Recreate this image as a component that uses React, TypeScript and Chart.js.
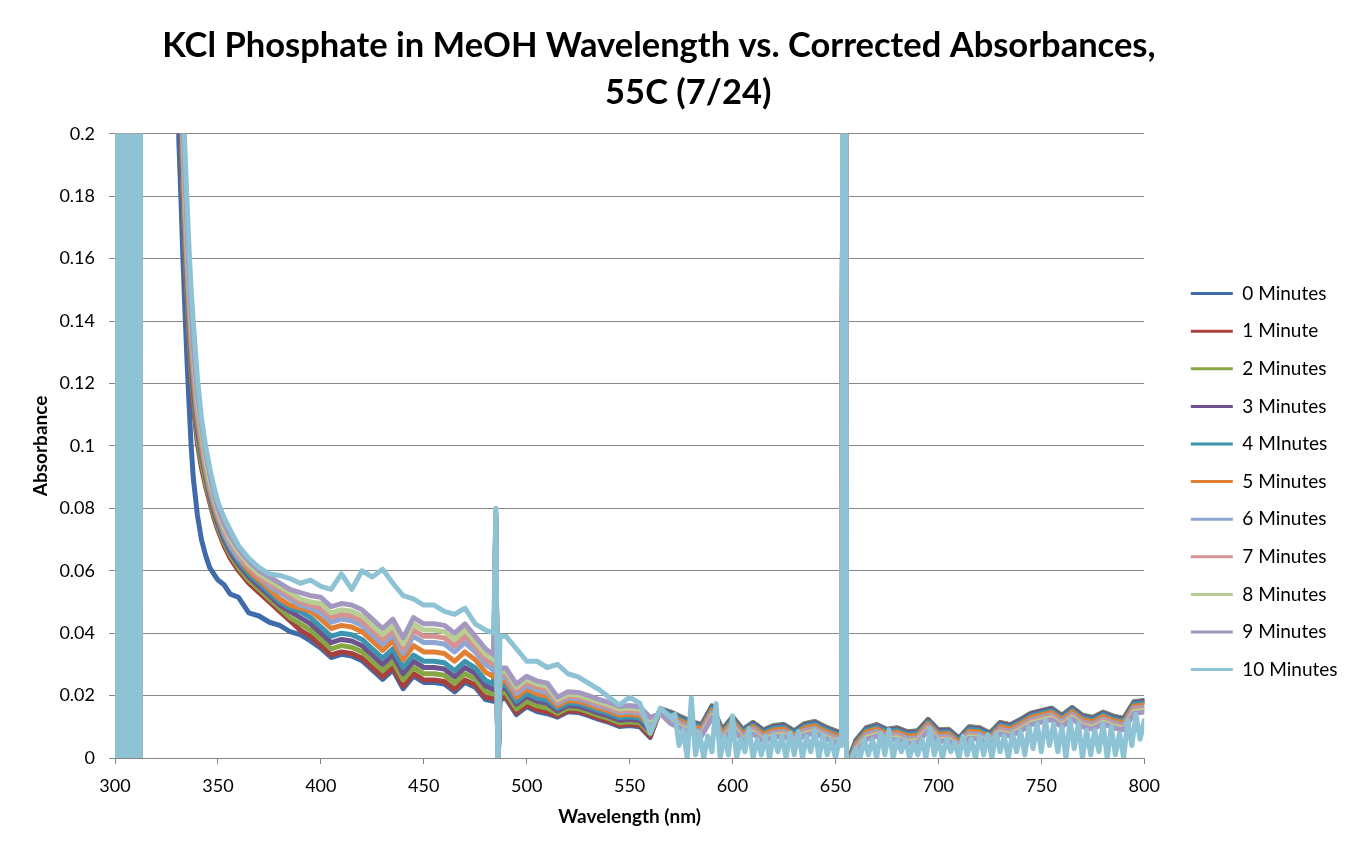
import { useEffect, useRef } from 'react';
import { Chart, registerables } from 'chart.js';

Chart.register(...registerables);

const TITLE_LINES = ['KCl Phosphate in MeOH Wavelength vs. Corrected Absorbances,       ', '55C (7/24)'];
const X_TITLE = 'Wavelength (nm)';
const Y_TITLE = 'Absorbance';

const SERIES_LABELS = ['0 Minutes', '1 Minute', '2 Minutes', '3 Minutes', '4 MInutes', '5 Minutes', '6 Minutes', '7 Minutes', '8 Minutes', '9 Minutes', '10 Minutes'];
const SERIES_COLORS = ['#3F6BAA', '#A8403D', '#86A743', '#6E548F', '#3C94AF', '#E18034', '#8DA7D2', '#D69291', '#B7CF92', '#A598C0', '#8EC2D5'];

const X_TICKS = [300, 350, 400, 450, 500, 550, 600, 650, 700, 750, 800];
const X_TICK_LABELS = ['300', '350', '400', '450', '500', '550', '600', '650', '700', '750', '800'];
const Y_TICKS = [0, 0.02, 0.04, 0.06, 0.08, 0.1, 0.12, 0.14, 0.16, 0.18, 0.2];
const Y_TICK_LABELS = ['0', '0.02', '0.04', '0.06', '0.08', '0.1', '0.12', '0.14', '0.16', '0.18', '0.2'];

// shared saturated UV edge (300-330 nm), identical for every run
const EDGE_WL = [300, 301, 301.5, 302, 302.5, 303, 303.5, 304, 304.5, 305, 305.5, 306, 306.5, 307, 307.5, 308, 308.5, 309, 309.5, 310, 310.5, 311, 311.5, 312, 312.5, 320, 330];
const EDGE_ABS = [0, 0, 0.5, -0.2, 0.5, -0.2, 0.5, -0.2, 0.5, -0.2, 0.5, -0.2, 0.5, -0.2, 0.5, -0.2, 0.5, -0.2, 0.5, -0.2, 0.5, -0.2, 0.5, -0.2, 0.5, 0.5, 0.5];

const WAVELENGTHS = [
  331, 332, 333, 334, 335, 336, 337, 338, 340, 342, 344, 346, 348, 350, 353, 356, 360, 365, 370, 375, 380, 385, 390, 395,
  400, 405, 410, 415, 420, 425, 430, 435, 440, 445, 450, 455, 460, 465, 470, 475, 480,
  484, 485, 486, 487,
  490, 495, 500, 505, 510, 515, 520, 525, 530, 535, 540, 545, 550, 555, 560, 565, 570,
  575, 580, 585, 590, 595, 600, 605, 610, 615, 620, 625, 630, 635, 640, 645, 650,
  653, 654.3, 655.5,
  658, 660, 665, 670, 675, 680, 685, 690, 695, 700, 705, 710, 715, 720, 725, 730, 735, 740, 745, 750, 755, 760, 765, 770, 775, 780, 785, 790, 795, 800,
];

const MIN0 = [
  0.198, 0.18, 0.16, 0.143, 0.127, 0.113, 0.1, 0.09, 0.078, 0.07, 0.065, 0.061, 0.059, 0.057, 0.0555, 0.0525, 0.0515, 0.0465, 0.0455, 0.0435, 0.0425, 0.0405, 0.0395, 0.0375,
  0.0352, 0.0322, 0.0332, 0.0327, 0.0312, 0.0282, 0.0252, 0.0282, 0.0222, 0.0262, 0.0242, 0.0242, 0.0237, 0.0212, 0.0242, 0.0227, 0.0187,
  0.0182, 0.075, -0.005, 0.019,
  0.019, 0.0139, 0.0164, 0.0149, 0.0142, 0.0131, 0.0148, 0.0146, 0.0136, 0.0124, 0.0114, 0.0101, 0.0104, 0.01, 0.0066, 0.0158, 0.0147,
  0.0132, 0.0117, 0.0107, 0.0167, 0.009, 0.0132, 0.0092, 0.0114, 0.009, 0.0104, 0.0107, 0.0087, 0.011, 0.0117, 0.01, 0.0087,
  0.0082, 0.5, -0.05,
  0.0022, 0.0057, 0.0097, 0.0107, 0.0092, 0.0097, 0.0084, 0.0087, 0.0124, 0.009, 0.0092, 0.0064, 0.01, 0.0097, 0.008, 0.0114, 0.0107, 0.0124, 0.0144, 0.0152, 0.016, 0.0137, 0.0162, 0.0137, 0.013, 0.0147, 0.0134, 0.0127, 0.018, 0.0184,
];
const MIN1 = [
  0.26, 0.2, 0.178, 0.16, 0.145, 0.132, 0.121, 0.113, 0.101, 0.093, 0.087, 0.082, 0.077, 0.073, 0.068, 0.064, 0.06, 0.056, 0.053, 0.05, 0.047, 0.044, 0.041, 0.039,
  0.036, 0.033, 0.034, 0.0335, 0.032, 0.029, 0.026, 0.029, 0.023, 0.027, 0.025, 0.025, 0.0245, 0.022, 0.025, 0.0235, 0.0195,
  0.019, 0.076, -0.005, 0.0196,
  0.0196, 0.0145, 0.017, 0.0155, 0.0148, 0.0135, 0.0152, 0.015, 0.014, 0.0128, 0.0118, 0.0105, 0.0108, 0.0104, 0.007, 0.0155, 0.0145,
  0.013, 0.0115, 0.0105, 0.0165, 0.0088, 0.013, 0.009, 0.0112, 0.0088, 0.0102, 0.0105, 0.0085, 0.0108, 0.0115, 0.0098, 0.0085,
  0.008, 0.5, -0.05,
  0.002, 0.0055, 0.0095, 0.0105, 0.009, 0.0095, 0.0082, 0.0085, 0.0122, 0.0088, 0.009, 0.0062, 0.0098, 0.0095, 0.0078, 0.0112, 0.0105, 0.0122, 0.0142, 0.015, 0.0158, 0.0135, 0.016, 0.0135, 0.0128, 0.0145, 0.0132, 0.0125, 0.0178, 0.0182,
];
const MIN2 = [
  0.27, 0.205, 0.182, 0.163, 0.148, 0.135, 0.124, 0.116, 0.103, 0.095, 0.088, 0.083, 0.078, 0.074, 0.069, 0.065, 0.061, 0.057, 0.054, 0.051, 0.048, 0.045, 0.043, 0.041,
  0.038, 0.035, 0.036, 0.0355, 0.034, 0.031, 0.028, 0.031, 0.025, 0.029, 0.027, 0.027, 0.0265, 0.024, 0.027, 0.0253, 0.0213,
  0.0205, 0.076, -0.005, 0.0208,
  0.0208, 0.0157, 0.0182, 0.0167, 0.016, 0.0143, 0.016, 0.0158, 0.0148, 0.0136, 0.0126, 0.0113, 0.0116, 0.0112, 0.0078, 0.0157, 0.0146,
  0.0131, 0.0116, 0.0106, 0.0166, 0.0089, 0.0131, 0.0091, 0.0113, 0.0089, 0.0103, 0.0106, 0.0086, 0.0109, 0.0116, 0.0099, 0.0086,
  0.0081, 0.5, -0.05,
  0.0021, 0.0056, 0.0096, 0.0106, 0.0091, 0.0096, 0.0083, 0.0086, 0.0123, 0.0089, 0.0091, 0.0063, 0.0099, 0.0096, 0.0079, 0.0113, 0.0106, 0.0123, 0.0143, 0.0151, 0.0159, 0.0136, 0.0161, 0.0136, 0.0129, 0.0146, 0.0133, 0.0126, 0.0179, 0.0183,
];
const MIN3 = [
  0.27, 0.21, 0.186, 0.166, 0.151, 0.138, 0.127, 0.118, 0.105, 0.097, 0.09, 0.084, 0.079, 0.075, 0.07, 0.066, 0.062, 0.058, 0.055, 0.052, 0.049, 0.047, 0.045, 0.043,
  0.04, 0.037, 0.038, 0.0375, 0.036, 0.033, 0.03, 0.033, 0.027, 0.031, 0.029, 0.029, 0.0285, 0.026, 0.029, 0.0271, 0.0231,
  0.022, 0.077, -0.005, 0.0223,
  0.0223, 0.0172, 0.0197, 0.0182, 0.0175, 0.0151, 0.0168, 0.0166, 0.0156, 0.0144, 0.0134, 0.0121, 0.0124, 0.012, 0.0086, 0.0156, 0.0144,
  0.0129, 0.0114, 0.0104, 0.0164, 0.0087, 0.0129, 0.0089, 0.0111, 0.0087, 0.0101, 0.0104, 0.0084, 0.0107, 0.0114, 0.0097, 0.0084,
  0.0079, 0.5, -0.05,
  0.0019, 0.0054, 0.0094, 0.0104, 0.0089, 0.0094, 0.0081, 0.0084, 0.0121, 0.0087, 0.0089, 0.0061, 0.0097, 0.0094, 0.0077, 0.0111, 0.0104, 0.0121, 0.0141, 0.0149, 0.0157, 0.0134, 0.0159, 0.0134, 0.0127, 0.0144, 0.0131, 0.0124, 0.0177, 0.0181,
];
const MIN4 = [
  0.28, 0.215, 0.19, 0.169, 0.154, 0.141, 0.13, 0.121, 0.107, 0.098, 0.091, 0.085, 0.08, 0.076, 0.071, 0.067, 0.063, 0.059, 0.056, 0.053, 0.05, 0.048, 0.047, 0.045,
  0.042, 0.039, 0.04, 0.0395, 0.038, 0.035, 0.032, 0.035, 0.029, 0.033, 0.031, 0.031, 0.0305, 0.028, 0.031, 0.0289, 0.0249,
  0.0235, 0.077, -0.005, 0.0233,
  0.0233, 0.0182, 0.0207, 0.0192, 0.0185, 0.0159, 0.0176, 0.0174, 0.0164, 0.0152, 0.0142, 0.0129, 0.0132, 0.0128, 0.0094, 0.0154, 0.014,
  0.0124, 0.0109, 0.0099, 0.0159, 0.0082, 0.0124, 0.0084, 0.0106, 0.0082, 0.0096, 0.0099, 0.0079, 0.0102, 0.0109, 0.0092, 0.0079,
  0.0074, 0.5, -0.05,
  0.0014, 0.0049, 0.0089, 0.0099, 0.0084, 0.0089, 0.0076, 0.0079, 0.0116, 0.0082, 0.0084, 0.0056, 0.0092, 0.0089, 0.0072, 0.0106, 0.0099, 0.0116, 0.0136, 0.0144, 0.0152, 0.0129, 0.0154, 0.0129, 0.0122, 0.0139, 0.0126, 0.0119, 0.0172, 0.0176,
];
const MIN5 = [
  0.28, 0.22, 0.193, 0.172, 0.157, 0.144, 0.132, 0.123, 0.109, 0.1, 0.092, 0.086, 0.081, 0.077, 0.072, 0.068, 0.064, 0.06, 0.057, 0.054, 0.051, 0.049, 0.048, 0.047,
  0.0445, 0.0415, 0.0425, 0.042, 0.0405, 0.0375, 0.0345, 0.0375, 0.0315, 0.036, 0.034, 0.034, 0.0335, 0.031, 0.034, 0.0315, 0.0275,
  0.026, 0.078, -0.005, 0.0246,
  0.0246, 0.0195, 0.022, 0.0205, 0.0198, 0.0167, 0.0184, 0.0182, 0.0172, 0.016, 0.015, 0.0137, 0.014, 0.0136, 0.0102, 0.015, 0.0133,
  0.0118, 0.0103, 0.0093, 0.0153, 0.0076, 0.0118, 0.0078, 0.01, 0.0076, 0.009, 0.0093, 0.0073, 0.0096, 0.0103, 0.0086, 0.0073,
  0.0068, 0.5, -0.05,
  0.0008, 0.0043, 0.0083, 0.0093, 0.0078, 0.0083, 0.007, 0.0073, 0.011, 0.0076, 0.0078, 0.005, 0.0086, 0.0083, 0.0066, 0.01, 0.0093, 0.011, 0.013, 0.0138, 0.0146, 0.0123, 0.0148, 0.0123, 0.0116, 0.0133, 0.012, 0.0113, 0.0166, 0.017,
];
const MIN6 = [
  0.29, 0.225, 0.197, 0.176, 0.16, 0.147, 0.135, 0.126, 0.111, 0.102, 0.094, 0.087, 0.082, 0.078, 0.072, 0.068, 0.064, 0.061, 0.058, 0.055, 0.053, 0.051, 0.049, 0.048,
  0.0465, 0.0435, 0.0445, 0.044, 0.0425, 0.0395, 0.0365, 0.0395, 0.0335, 0.039, 0.037, 0.037, 0.0365, 0.034, 0.037, 0.034, 0.03,
  0.028, 0.078, -0.005, 0.0258,
  0.0258, 0.0207, 0.0232, 0.0217, 0.021, 0.0175, 0.0192, 0.019, 0.018, 0.0168, 0.0158, 0.0145, 0.0148, 0.0144, 0.011, 0.0148, 0.0125,
  0.011, 0.0095, 0.0085, 0.0145, 0.0068, 0.011, 0.007, 0.0092, 0.0068, 0.0082, 0.0085, 0.0065, 0.0088, 0.0095, 0.0078, 0.0065,
  0.006, 0.5, -0.05,
  0.0, 0.0035, 0.0075, 0.0085, 0.007, 0.0075, 0.0062, 0.0065, 0.0102, 0.0068, 0.007, 0.0042, 0.0078, 0.0075, 0.0058, 0.0092, 0.0085, 0.0102, 0.0122, 0.013, 0.0138, 0.0115, 0.014, 0.0115, 0.0108, 0.0125, 0.0112, 0.0105, 0.0158, 0.0162,
];
const MIN7 = [
  0.29, 0.23, 0.2, 0.179, 0.163, 0.15, 0.138, 0.128, 0.113, 0.103, 0.095, 0.088, 0.083, 0.078, 0.073, 0.069, 0.065, 0.061, 0.058, 0.056, 0.054, 0.052, 0.05, 0.049,
  0.048, 0.045, 0.046, 0.0455, 0.044, 0.041, 0.038, 0.041, 0.035, 0.041, 0.039, 0.039, 0.0385, 0.036, 0.039, 0.0357, 0.0317,
  0.03, 0.078, -0.005, 0.0268,
  0.0268, 0.0217, 0.0242, 0.0227, 0.022, 0.0181, 0.0198, 0.0196, 0.0186, 0.0174, 0.0164, 0.0151, 0.0154, 0.015, 0.0116, 0.0146, 0.012,
  0.0105, 0.009, 0.008, 0.014, 0.0063, 0.0105, 0.0065, 0.0087, 0.0063, 0.0077, 0.008, 0.006, 0.0083, 0.009, 0.0073, 0.006,
  0.0055, 0.5, -0.05,
  -0.0005, 0.003, 0.007, 0.008, 0.0065, 0.007, 0.0057, 0.006, 0.0097, 0.0063, 0.0065, 0.0037, 0.0073, 0.007, 0.0053, 0.0087, 0.008, 0.0097, 0.0117, 0.0125, 0.0133, 0.011, 0.0135, 0.011, 0.0103, 0.012, 0.0107, 0.01, 0.0153, 0.0157,
];
const MIN8 = [
  0.3, 0.235, 0.203, 0.182, 0.166, 0.152, 0.14, 0.131, 0.115, 0.105, 0.096, 0.089, 0.084, 0.079, 0.074, 0.07, 0.066, 0.062, 0.059, 0.057, 0.055, 0.053, 0.051, 0.05,
  0.0495, 0.0465, 0.0475, 0.047, 0.0455, 0.0425, 0.0395, 0.0425, 0.0365, 0.043, 0.041, 0.041, 0.0405, 0.038, 0.041, 0.0373, 0.0333,
  0.0315, 0.079, -0.005, 0.0278,
  0.0278, 0.0227, 0.0252, 0.0237, 0.023, 0.0187, 0.0204, 0.0202, 0.0192, 0.018, 0.017, 0.0157, 0.016, 0.0156, 0.0122, 0.0144, 0.0115,
  0.01, 0.0085, 0.0075, 0.0135, 0.0058, 0.01, 0.006, 0.0082, 0.0058, 0.0072, 0.0075, 0.0055, 0.0078, 0.0085, 0.0068, 0.0055,
  0.005, 0.5, -0.05,
  -0.001, 0.0025, 0.0065, 0.0075, 0.006, 0.0065, 0.0052, 0.0055, 0.0092, 0.0058, 0.006, 0.0032, 0.0068, 0.0065, 0.0048, 0.0082, 0.0075, 0.0092, 0.0112, 0.012, 0.0128, 0.0105, 0.013, 0.0105, 0.0098, 0.0115, 0.0102, 0.0095, 0.0148, 0.0152,
];
const MIN9 = [
  0.3, 0.24, 0.207, 0.186, 0.17, 0.155, 0.143, 0.133, 0.117, 0.107, 0.098, 0.091, 0.085, 0.08, 0.075, 0.071, 0.067, 0.063, 0.06, 0.058, 0.056, 0.054, 0.053, 0.052,
  0.0515, 0.0485, 0.0495, 0.049, 0.0475, 0.0445, 0.0415, 0.0445, 0.0385, 0.045, 0.043, 0.043, 0.0425, 0.04, 0.043, 0.039, 0.035,
  0.033, 0.079, -0.005, 0.0288,
  0.0288, 0.0237, 0.0262, 0.0247, 0.024, 0.0195, 0.0212, 0.021, 0.02, 0.0188, 0.0178, 0.0165, 0.0168, 0.0164, 0.013, 0.0142, 0.011,
  0.0095, 0.008, 0.007, 0.013, 0.0053, 0.0095, 0.0055, 0.0077, 0.0053, 0.0067, 0.007, 0.005, 0.0073, 0.008, 0.0063, 0.005,
  0.0045, 0.5, -0.05,
  -0.0015, 0.002, 0.006, 0.007, 0.0055, 0.006, 0.0047, 0.005, 0.0087, 0.0053, 0.0055, 0.0027, 0.0063, 0.006, 0.0043, 0.0077, 0.007, 0.0087, 0.0107, 0.0115, 0.0123, 0.01, 0.0125, 0.01, 0.0093, 0.011, 0.0097, 0.009, 0.0143, 0.0147,
];
// 10 Minutes: main grid up to 570 nm, then its own finer grid (it oscillates hard to zero)
const MIN10 = [
  0.32, 0.26, 0.215, 0.195, 0.178, 0.163, 0.15, 0.14, 0.122, 0.109, 0.1, 0.093, 0.087, 0.082, 0.077, 0.073, 0.068, 0.064, 0.061, 0.059, 0.0585, 0.0575, 0.056, 0.057,
  0.055, 0.054, 0.059, 0.054, 0.06, 0.058, 0.0605, 0.056, 0.052, 0.051, 0.049, 0.049, 0.047, 0.046, 0.048, 0.043, 0.041,
  0.04, 0.08, -0.005, 0.039,
  0.039, 0.035, 0.031, 0.031, 0.029, 0.03, 0.027, 0.026, 0.024, 0.022, 0.0195, 0.017, 0.0195, 0.0175, 0.008, 0.016, 0.013,
];
const MIN10_TAIL_WL = [
  572, 574, 576, 578, 580, 582, 584, 586, 588, 590, 592, 594, 596, 598, 600, 602, 604, 606, 608, 610,
  612, 614, 616, 618, 620, 622, 624, 626, 628, 630, 632, 634, 636, 638, 640, 642, 644, 646, 648, 650, 652,
  653, 654.3, 655.5,
  658, 660, 662, 664, 666, 668, 670, 672, 674, 676, 678, 680, 682, 684, 686, 688, 690, 692, 694, 696, 698, 700,
  702, 704, 706, 708, 710, 712, 714, 716, 718, 720, 722, 724, 726, 728, 730, 732, 734, 736, 738, 740,
  742, 744, 746, 748, 750, 752, 754, 756, 758, 760, 762, 764, 766, 768, 770, 772, 774, 776, 778, 780,
  782, 784, 786, 788, 790, 792, 794, 796, 798, 800,
];
const MIN10_TAIL = [
  0.014, 0.004, 0.009, 0.0, 0.0192, 0.001, 0.008, 0.0, 0.007, 0.002, 0.0175, 0.0, 0.007, 0.001, 0.0135, 0.0, 0.006, 0.002, 0.0095, 0.0,
  0.006, 0.001, 0.007, 0.0, 0.0075, 0.002, 0.007, 0.0, 0.008, 0.001, 0.0085, 0.0, 0.007, 0.002, 0.009, 0.0, 0.0075, 0.001, 0.006, 0.0, 0.006,
  0.004, 0.5, -0.05,
  0.0, 0.003, 0.0, 0.006, 0.001, 0.006, 0.0, 0.008, 0.001, 0.009, 0.0, 0.006, 0.002, 0.006, 0.0, 0.005, 0.001, 0.006, 0.0, 0.0095, 0.001, 0.006,
  0.0, 0.006, 0.002, 0.005, 0.0, 0.007, 0.001, 0.006, 0.0, 0.007, 0.001, 0.0075, 0.0, 0.008, 0.002, 0.007, 0.0, 0.008, 0.002, 0.0085,
  0.001, 0.01, 0.003, 0.011, 0.002, 0.012, 0.004, 0.011, 0.002, 0.01, 0.0, 0.012, 0.003, 0.011, 0.0, 0.009, 0.001, 0.009, 0.002, 0.011,
  0.0, 0.01, 0.001, 0.008, 0.0, 0.012, 0.004, 0.014, 0.006, 0.012,
];

const SERIES_VALUES = [MIN0, MIN1, MIN2, MIN3, MIN4, MIN5, MIN6, MIN7, MIN8, MIN9];

const FONT = 'Lato, "Open Sans", sans-serif';

export default function App() {
  const canvasRef = useRef<HTMLCanvasElement>(null);

  useEffect(() => {
    const canvas = canvasRef.current;
    if (!canvas) return;

    const styleFor = (i: number) => ({
      label: SERIES_LABELS[i],
      borderColor: SERIES_COLORS[i],
      backgroundColor: SERIES_COLORS[i],
      borderWidth: 5,
      pointRadius: 0,
      pointHoverRadius: 0,
      fill: false,
      tension: 0,
      borderJoinStyle: 'round' as const,
      borderCapStyle: 'round' as const,
      order: 10 - i,
      clip: 0,
    });

    const mainX = [...EDGE_WL, ...WAVELENGTHS];
    const datasets: any[] = SERIES_VALUES.map((vals, i) => {
      const ys = [...EDGE_ABS, ...vals];
      return { ...styleFor(i), data: mainX.map((x, j) => ({ x, y: ys[j] })) };
    });
    const x10 = [...EDGE_WL, ...WAVELENGTHS.slice(0, MIN10.length), ...MIN10_TAIL_WL];
    const y10 = [...EDGE_ABS, ...MIN10, ...MIN10_TAIL];
    datasets.push({ ...styleFor(10), data: x10.map((x, j) => ({ x, y: y10[j] })) });

    const chart = new Chart(canvas, {
      type: 'line',
      data: { datasets },
      options: {
        responsive: false,
        animation: false,
        devicePixelRatio: 1,
        events: [],
        layout: { padding: { left: 29, right: 4.5, top: 0, bottom: 26 } },
        plugins: {
          title: {
            display: true,
            text: TITLE_LINES,
            color: '#000',
            font: { family: FONT, size: 34.5, weight: 'bold', lineHeight: 1.36 },
            padding: { top: 22, bottom: 18 },
          },
          legend: {
            position: 'right',
            title: { display: true, text: ' ', font: { size: 1 }, padding: { top: 67, bottom: 67 } },
            labels: {
              boxWidth: 42,
              boxHeight: 3,
              padding: 18.6,
              color: '#000',
              font: { family: FONT, size: 19 },
              sort: (a: any, b: any) => a.datasetIndex - b.datasetIndex,
              generateLabels: (ch: any) =>
                Chart.defaults.plugins.legend.labels.generateLabels(ch).map((it: any) => ({ ...it, lineWidth: 0 })),
            },
          },
          tooltip: { enabled: false },
        },
        scales: {
          x: {
            type: 'linear',
            min: 300,
            max: 800,
            afterBuildTicks: (s: any) => {
              s.ticks = X_TICKS.map((v) => ({ value: v }));
            },
            afterFit: (s: any) => {
              s.height = 70;
            },
            ticks: {
              color: '#000',
              font: { family: FONT, size: 18 },
              padding: 11,
              maxRotation: 0,
              autoSkip: false,
              callback: (_v: any, i: number) => X_TICK_LABELS[i],
            },
            grid: { drawOnChartArea: false, drawTicks: true, tickLength: 6, color: '#868686', lineWidth: 1 },
            border: { color: '#868686', width: 1 },
            title: {
              display: true,
              text: X_TITLE,
              color: '#000',
              font: { family: FONT, size: 19, weight: 'bold' },
              padding: { top: 0, bottom: 0 },
            },
          },
          y: {
            min: 0,
            max: 0.2,
            afterBuildTicks: (s: any) => {
              s.ticks = Y_TICKS.map((v) => ({ value: v }));
            },
            afterFit: (s: any) => {
              s.width = 86;
            },
            ticks: {
              color: '#000',
              font: { family: FONT, size: 18 },
              padding: 14,
              autoSkip: false,
              callback: (_v: any, i: number) => Y_TICK_LABELS[i],
            },
            grid: { color: '#868686', lineWidth: 1, drawTicks: true, tickLength: 6 },
            border: { color: '#868686', width: 1 },
            title: {
              display: true,
              text: Y_TITLE,
              color: '#000',
              font: { family: FONT, size: 19, weight: 'bold' },
              padding: { top: 0, bottom: 0 },
            },
          },
          y2: {
            position: 'right',
            display: true,
            grid: { display: false },
            border: { display: false },
            ticks: { display: false },
            afterFit: (s: any) => {
              s.width = 28;
            },
          },
        },
      } as any,
    });

    return () => {
      chart.destroy();
    };
  }, []);

  return (
    <div style={{ position: 'absolute', left: 0, top: 0, width: 1352, height: 854, background: '#fff' }}>
      <canvas ref={canvasRef} width={1352} height={854} style={{ display: 'block', width: 1352, height: 854 }} />
    </div>
  );
}
